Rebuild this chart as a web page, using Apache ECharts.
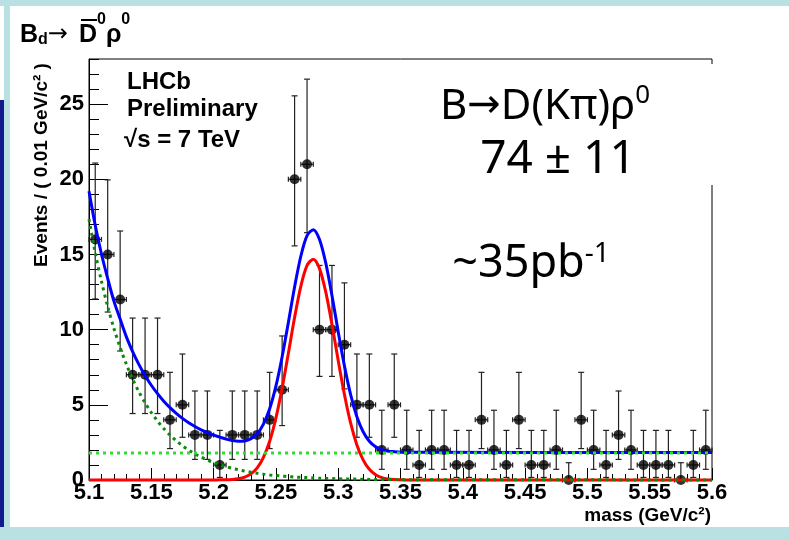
<!DOCTYPE html>
<html>
<head>
<meta charset="utf-8">
<script src="https://cdn.jsdelivr.net/npm/echarts@6/dist/echarts.min.js"></script>
<style>
html, body { margin: 0; padding: 0; background: #b9e0e3; }
#panel { position: absolute; left: 10px; top: 6px; width: 779px; height: 521px; background: #fff; }
#edge { position: absolute; left: 0; top: 6px; width: 4px; height: 94px; background: #fff; }
#navy { position: absolute; left: 0; top: 100px; width: 4px; height: 427px; background: #101a8c; }
#main { position: absolute; left: 0; top: 0; width: 789px; height: 540px; }
</style>
</head>
<body>
<div id="panel"></div>
<div id="edge"></div>
<div id="navy"></div>
<div id="main"></div>
<script>
// bin centres (0.01 GeV bins) and counts
var massBins = [5.105, 5.115, 5.125, 5.135, 5.145, 5.155, 5.165, 5.175, 5.185, 5.195,
                5.205, 5.215, 5.225, 5.235, 5.245, 5.255, 5.265, 5.275, 5.285, 5.295,
                5.305, 5.315, 5.325, 5.335, 5.345, 5.355, 5.365, 5.375, 5.385, 5.395,
                5.405, 5.415, 5.425, 5.435, 5.445, 5.455, 5.465, 5.475, 5.485, 5.495,
                5.505, 5.515, 5.525, 5.535, 5.545, 5.555, 5.565, 5.575, 5.585, 5.595];
var counts = [16, 15, 12, 7, 7, 7, 4, 5, 3, 3,
              1, 3, 3, 3, 4, 6, 20, 21, 10, 10,
              9, 5, 5, 2, 5, 2, 1, 2, 2, 1,
              1, 4, 2, 1, 4, 1, 1, 2, 0, 4,
              2, 1, 3, 2, 1, 1, 1, 0, 1, 2];

// error bar ends, looked up by count (asymmetric, as drawn)
var errLow  = [0, 0.17, 0.71, 1.37, 2.09, 2.84, 3.62, 4.42, 5.23, 6.06, 6.89,
               7.73, 8.58, 9.44, 10.30, 11.17, 12.04, 12.92, 13.80, 14.68, 15.57, 16.45];
var errHigh = [1.15, 3.30, 4.64, 5.92, 7.16, 8.38, 9.58, 10.77, 11.95, 13.11, 14.27,
               15.42, 16.56, 17.70, 18.83, 19.96, 21.08, 22.20, 23.32, 24.44, 25.55, 26.66];

// fit curves
var curveMass = [5.100, 5.105, 5.110, 5.115, 5.120, 5.125, 5.130, 5.135, 5.140, 5.145,
                 5.150, 5.155, 5.160, 5.165, 5.170, 5.175, 5.180, 5.185, 5.190, 5.195,
                 5.200, 5.205, 5.210, 5.215, 5.220, 5.225, 5.230, 5.235, 5.240, 5.245,
                 5.250, 5.255, 5.260, 5.265, 5.270, 5.275, 5.280, 5.285, 5.290, 5.295,
                 5.300, 5.305, 5.310, 5.315, 5.320, 5.325, 5.330, 5.335, 5.340, 5.345,
                 5.350, 5.355, 5.360, 5.600];
var totalFit = [19.20, 16.94, 15.03, 13.40, 11.90, 10.70, 9.52, 8.54, 7.69, 6.95,
                6.30, 5.74, 5.24, 4.81, 4.43, 4.10, 3.81, 3.56, 3.34, 3.15,
                2.98, 2.85, 2.72, 2.63, 2.58, 2.60, 2.75, 3.08, 3.72, 4.74,
                6.24, 8.20, 10.48, 12.84, 14.88, 16.25, 16.65, 16.00, 14.44, 12.27,
                9.86, 7.59, 5.67, 4.21, 3.21, 2.58, 2.21, 2.02, 1.92, 1.88,
                1.85, 1.84, 1.84, 1.83];
var signalFit = [0, 0, 0, 0, 0, 0, 0, 0, 0, 0,
                 0, 0, 0, 0, 0, 0, 0, 0, 0, 0,
                 0, 0.01, 0.01, 0.03, 0.08, 0.19, 0.41, 0.81, 1.51, 2.58,
                 4.12, 6.11, 8.43, 10.81, 12.88, 14.27, 14.69, 14.06, 12.51, 10.35,
                 7.95, 5.69, 3.78, 2.33, 1.34, 0.71, 0.35, 0.16, 0.07, 0.03,
                 0.01, 0, 0, 0];
var peakingBkg = [17.35, 15.12, 13.21, 11.54, 10.08, 8.81, 7.70, 6.72, 5.87, 5.13,
                  4.48, 3.92, 3.42, 2.99, 2.61, 2.28, 1.99, 1.74, 1.52, 1.33,
                  1.16, 1.02, 0.89, 0.78, 0.68, 0.59, 0.52, 0.45, 0.39, 0.34,
                  0.30, 0.26, 0.23, 0.20, 0.18, 0.16, 0.14, 0.12, 0.11, 0.10,
                  0.08, 0.07, 0.06, 0.06, 0.05, 0.04, 0.04, 0.03, 0.03, 0.03,
                  0.02, 0.02, 0.02, 0];
var flatMass = [5.1, 5.6];
var flatBkg = [1.80, 1.80];

var binHalf = 0.005;
var rootFont = 'Liberation Sans';
var slideFont = '"Comic Sans MS", "Noto Sans"';

function pairs(xs, ys) {
    return xs.map(function (x, i) { return [x, ys[i]]; });
}

var errData = counts.map(function (n, i) {
    return [massBins[i], n, errLow[n], errHigh[n]];
});

function renderErr(params, api) {
    var x = api.value(0), n = api.value(1);
    var top = api.coord([x, api.value(3)]);
    var bot = api.coord([x, api.value(2)]);
    var l = api.coord([x - binHalf, n]);
    var r = api.coord([x + binHalf, n]);
    var st = { stroke: '#222', lineWidth: 1.2 };
    var c = 3, h = 2.5;
    return {
        type: 'group',
        children: [
            { type: 'line', shape: { x1: top[0], y1: top[1], x2: bot[0], y2: bot[1] }, style: st },
            { type: 'line', shape: { x1: top[0] - c, y1: top[1], x2: top[0] + c, y2: top[1] }, style: st },
            { type: 'line', shape: { x1: bot[0] - c, y1: bot[1], x2: bot[0] + c, y2: bot[1] }, style: st },
            { type: 'line', shape: { x1: l[0], y1: l[1], x2: r[0], y2: r[1] }, style: st },
            { type: 'line', shape: { x1: l[0], y1: l[1] - h, x2: l[0], y2: l[1] + h }, style: st },
            { type: 'line', shape: { x1: r[0], y1: r[1] - h, x2: r[0], y2: r[1] + h }, style: st }
        ]
    };
}

var myChart = echarts.init(document.getElementById('main'));

var option = {
    animation: false,
    backgroundColor: 'transparent',
    grid: { left: 89, right: 77, top: 59, bottom: 60, show: true, borderColor: '#000', borderWidth: 1 },
    xAxis: [{
        type: 'value', min: 5.1, max: 5.6, interval: 0.05,
        axisLine: { lineStyle: { color: '#000', width: 1 } },
        axisTick: { inside: true, length: 12, lineStyle: { color: '#000' } },
        axisLabel: {
            color: '#000', fontFamily: rootFont, fontWeight: 'bold', fontSize: 22, margin: 2,
            formatter: function (v) { return String(+v.toFixed(2)); }
        },
        splitLine: { show: false }
    }, {
        type: 'value', min: 5.1, max: 5.6, interval: 0.01, position: 'bottom',
        axisLine: { show: false },
        axisTick: { inside: true, length: 6, lineStyle: { color: '#000' } },
        axisLabel: { show: false },
        splitLine: { show: false }
    }],
    yAxis: [{
        type: 'value', min: 0, max: 28, interval: 5, position: 'left',
        axisLine: { show: true, lineStyle: { color: '#000', width: 1 } },
        axisTick: { show: true, inside: true, length: 19, lineStyle: { color: '#000' } },
        axisLabel: {
            color: '#000', fontFamily: rootFont, fontWeight: 'bold', fontSize: 22, margin: 5,
            showMaxLabel: false,
            formatter: function (v) { return v % 5 === 0 ? String(v) : ''; }
        },
        splitLine: { show: false }
    }, {
        type: 'value', min: 0, max: 28, interval: 1, position: 'left', offset: 0,
        axisLine: { show: false },
        axisTick: { show: true, inside: true, length: 10, lineStyle: { color: '#000' } },
        axisLabel: { show: false },
        splitLine: { show: false }
    }],
    series: [{
        name: 'errors', type: 'custom', renderItem: renderErr, data: errData, z: 2
    }, {
        name: 'data', type: 'scatter', symbol: 'circle', symbolSize: 10,
        itemStyle: { color: '#000' }, data: pairs(massBins, counts), z: 3
    }, {
        name: 'total', type: 'line', data: pairs(curveMass, totalFit), showSymbol: false, smooth: 0.3,
        clip: false, lineStyle: { color: '#0000ff', width: 3 }, z: 4
    }, {
        name: 'signal', type: 'line', data: pairs(curveMass, signalFit), showSymbol: false, smooth: 0.3,
        clip: false, lineStyle: { color: '#ff0000', width: 3 }, z: 5
    }, {
        name: 'peaking', type: 'line', data: pairs(curveMass, peakingBkg), showSymbol: false, smooth: 0.3,
        clip: false, lineStyle: { color: '#0a8a0a', width: 3, type: [3, 4] }, z: 6
    }, {
        name: 'flat', type: 'line', data: pairs(flatMass, flatBkg), showSymbol: false,
        lineStyle: { color: '#2ee02e', width: 3, type: [3, 4] }, z: 7
    }],
    graphic: [
        // covers the right frame edge behind the yield text, as in the slide
        { type: 'rect', shape: { x: 700, y: 64, width: 25, height: 121 }, style: { fill: '#fff' }, z: 50 },
        {
            type: 'text', x: 20, y: 12, z: 60,
            style: {
                text: '{b|B}{sub|d}{arr|→}{gap| }{b|D}{sup|0}{b|ρ}{sup|0}',
                fill: '#000', align: 'left', verticalAlign: 'top',
                rich: {
                    b: { fontFamily: rootFont, fontWeight: 'bold', fontSize: 25, lineHeight: 46 },
                    sub: { fontFamily: rootFont, fontWeight: 'bold', fontSize: 16, verticalAlign: 'bottom', lineHeight: 16, padding: [0, 0, 10, 0] },
                    arr: { fontFamily: 'DejaVu Sans', fontSize: 24, lineHeight: 44 },
                    gap: { fontSize: 10, width: 11 },
                    sup: { fontFamily: rootFont, fontWeight: 'bold', fontSize: 16, verticalAlign: 'top', lineHeight: 16 }
                }
            }
        },
        { type: 'line', shape: { x1: 81, y1: 20, x2: 97, y2: 20 }, style: { stroke: '#000', lineWidth: 2 }, z: 60 },
        {
            type: 'text', x: 127, y: 70, z: 60,
            style: { text: 'LHCb', fill: '#000', font: 'bold 24px "Liberation Sans"', align: 'left', verticalAlign: 'top' }
        },
        {
            type: 'text', x: 127, y: 97, z: 60,
            style: { text: 'Preliminary', fill: '#000', font: 'bold 24px "Liberation Sans"', align: 'left', verticalAlign: 'top' }
        },
        {
            type: 'text', x: 124, y: 128, z: 60,
            style: { text: '√s = 7 TeV', fill: '#000', font: 'bold 24px "Liberation Sans"', align: 'left', verticalAlign: 'top' }
        },
        {
            type: 'text', x: 545, y: 83, z: 60,
            style: {
                text: '{m|B}{a|→}{m|D(Kπ)ρ}{s|0}', fill: '#000', align: 'center', verticalAlign: 'top',
                rich: {
                    m: { fontFamily: slideFont, fontSize: 42, lineHeight: 48 },
                    a: { fontFamily: 'DejaVu Sans', fontSize: 40, lineHeight: 48 },
                    s: { fontFamily: slideFont, fontSize: 26, verticalAlign: 'top', lineHeight: 26 }
                }
            }
        },
        {
            type: 'text', x: 558, y: 137, z: 60,
            style: { text: '74 ± 11', fill: '#000', font: '46px ' + slideFont, align: 'center', verticalAlign: 'top' }
        },
        {
            type: 'text', x: 531, y: 240, z: 60,
            style: {
                text: '{m|~35pb}{s|-1}', fill: '#000', align: 'center', verticalAlign: 'top',
                rich: {
                    m: { fontFamily: slideFont, fontSize: 45, lineHeight: 48 },
                    s: { fontFamily: slideFont, fontSize: 28, verticalAlign: 'top', lineHeight: 26 }
                }
            }
        },
        {
            type: 'text', x: 42, y: 165, rotation: Math.PI / 2, z: 60,
            style: { text: 'Events / ( 0.01 GeV/c² )', fill: '#000', font: 'bold 19px "Liberation Sans"', align: 'center', verticalAlign: 'middle' }
        },
        {
            type: 'text', x: 711, y: 506, z: 60,
            style: { text: 'mass (GeV/c²)', fill: '#000', font: 'bold 19px "Liberation Sans"', align: 'right', verticalAlign: 'top' }
        }
    ]
};

myChart.setOption(option);
</script>
</body>
</html>
